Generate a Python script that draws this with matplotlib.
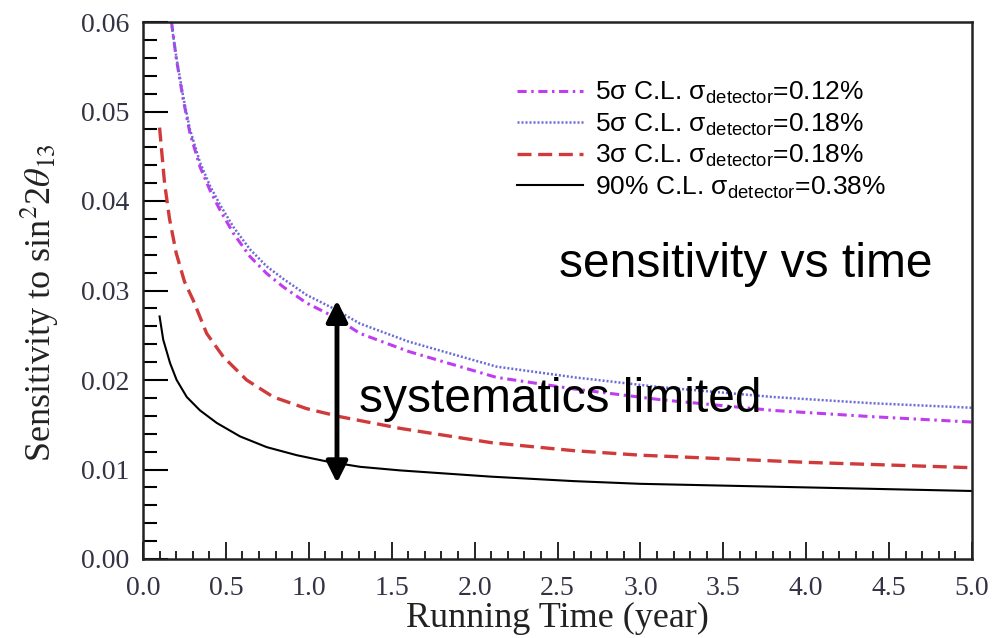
import numpy as np
import matplotlib
matplotlib.use('Agg')
import matplotlib.pyplot as plt
from matplotlib.ticker import MultipleLocator, FormatStrFormatter
from matplotlib.font_manager import FontProperties

# values
t_5s_012 = [0.172, 0.2, 0.243, 0.283, 0.344, 0.404, 0.464, 0.545, 0.645, 0.746, 0.846, 0.987,
            1.148, 1.309, 1.6, 2.13, 2.6, 3.12, 3.8, 4.4, 5.0]
s_5s_012 = [0.0600, 0.0560, 0.0513, 0.0476, 0.0438, 0.0412, 0.0390, 0.0364, 0.0338, 0.0319,
            0.0304, 0.0286, 0.0271, 0.0252, 0.0232, 0.0203, 0.0190, 0.0178, 0.0166, 0.0159,
            0.0153]

t_5s_018 = [0.170, 0.2, 0.243, 0.283, 0.344, 0.404, 0.464, 0.545, 0.645, 0.746, 0.846, 0.987,
            1.148, 1.309, 1.6, 2.13, 2.6, 3.12, 3.8, 4.4, 5.0]
s_5s_018 = [0.0600, 0.0562, 0.0516, 0.0480, 0.0443, 0.0417, 0.0396, 0.0371, 0.0346, 0.0327,
            0.0313, 0.0295, 0.0280, 0.0263, 0.0243, 0.0215, 0.0203, 0.0192, 0.0181, 0.0174,
            0.0169]

t_3s_018 = [0.1, 0.13, 0.16, 0.2, 0.25, 0.303, 0.384, 0.484, 0.625, 0.786, 0.987, 1.188, 1.55,
            2.1, 2.6, 3.0, 3.5, 4.0, 4.5, 5.0]
s_3s_018 = [0.0482, 0.0420, 0.0380, 0.0342, 0.0310, 0.0289, 0.0252, 0.0226, 0.0200, 0.0181,
            0.0168, 0.0159, 0.0146, 0.0130, 0.0121, 0.0116, 0.0112, 0.0108, 0.0105, 0.0102]

t_90_038 = [0.1, 0.122, 0.163, 0.203, 0.264, 0.344, 0.445, 0.585, 0.746, 0.927, 1.108, 1.309,
            1.55, 2.1, 2.6, 3.0, 3.5, 4.0, 4.5, 5.0]
s_90_038 = [0.0271, 0.0245, 0.0219, 0.0200, 0.0181, 0.0166, 0.0152, 0.0137, 0.0125, 0.0116,
            0.0109, 0.0103, 0.0099, 0.0092, 0.0087, 0.0084, 0.0082, 0.0080, 0.0078, 0.0076]

labels = ['5\u03c3 C.L. \u03c3$_{\\rm detector}$=0.12%',
          '5\u03c3 C.L. \u03c3$_{\\rm detector}$=0.18%',
          '3\u03c3 C.L. \u03c3$_{\\rm detector}$=0.18%',
          '90% C.L. \u03c3$_{\\rm detector}$=0.38%']

arrow_t = 1.17
arrow_lo, arrow_hi = 0.0085, 0.0289

plt.rcParams['mathtext.fontset'] = 'custom'
plt.rcParams['mathtext.rm'] = 'Liberation Sans'
plt.rcParams['mathtext.it'] = 'Liberation Sans:italic'

fig = plt.figure(figsize=(9.92, 6.38), dpi=100)
ax = fig.add_axes([143/992, 1 - 559/638, (972 - 143)/992, (559 - 22)/638])

ax.plot(t_5s_012, s_5s_012, color='#c03cf0', lw=2.2, dashes=(3, 1.5, 0.8, 1.5), label=labels[0])
ax.plot(t_5s_018, s_5s_018, color='#6a6ad8', lw=1.8, dashes=(0.8, 0.8), label=labels[1])
ax.plot(t_3s_018, s_3s_018, color='#d03a3a', lw=2.4, dashes=(4.2, 2), label=labels[2])
ax.plot(t_90_038, s_90_038, color='black', lw=1.5, label=labels[3])

ax.set_xlim(0, 5)
ax.set_ylim(0, 0.06)
ax.xaxis.set_major_locator(MultipleLocator(0.5))
ax.xaxis.set_minor_locator(MultipleLocator(0.1))
ax.yaxis.set_major_locator(MultipleLocator(0.01))
ax.yaxis.set_minor_locator(MultipleLocator(0.002))
ax.xaxis.set_major_formatter(FormatStrFormatter('%.1f'))
ax.yaxis.set_major_formatter(FormatStrFormatter('%.2f'))

for s in ax.spines.values():
    s.set_linewidth(1.8)
    s.set_color('#222222')

ax.tick_params(axis='y', which='major', direction='in', length=18, width=1.5, right=False)
ax.tick_params(axis='y', which='minor', direction='in', length=10, width=1.5, right=False)
ax.tick_params(axis='x', which='major', direction='in', length=12, width=1.2, top=False)
ax.tick_params(axis='x', which='minor', direction='in', length=6, width=1.2, top=False)
ax.tick_params(axis='both', which='major', labelsize=20, labelcolor='#333344')
ax.tick_params(axis='x', which='major', pad=12.5)
ax.tick_params(axis='y', which='major', pad=10)
for lab in ax.get_xticklabels() + ax.get_yticklabels():
    lab.set_family('Liberation Serif')

ax.set_xlabel('Running Time (year)', family='Liberation Serif', fontsize=26, color='#222222',
              va='center')
ax.xaxis.set_label_coords(0.5, (559 - 618) / 537)
ax.set_ylabel('Sensitivity to sin$^{2}$2$\\theta_{13}$', family='Liberation Serif', fontsize=26,
              color='#222222', math_fontfamily='stix', va='center')
ax.yaxis.set_label_coords((40 - 143) / 829, (559 - 303) / 537)

leg = ax.legend(loc='upper left', bbox_to_anchor=(517/992, 1 - 80/638),
                bbox_transform=fig.transFigure, frameon=False, borderpad=0, borderaxespad=0,
                prop=FontProperties(family='Liberation Sans', size=19),
                handlelength=2.5, handletextpad=0.45, labelspacing=0.2)

ax.annotate('', xy=(arrow_t, arrow_hi), xytext=(arrow_t, arrow_lo),
            arrowprops=dict(arrowstyle='<|-|>', lw=3.5, color='black', mutation_scale=32,
                            shrinkA=0, shrinkB=0))

ax.text(0.502, 0.548, 'sensitivity vs time', transform=ax.transAxes, family='Liberation Sans',
        fontsize=34.5, va='center', ha='left')
ax.text(0.26, 0.297, 'systematics limited', transform=ax.transAxes, family='Liberation Sans',
        fontsize=34.5, va='center', ha='left')

fig.savefig('out.png', dpi=100)
